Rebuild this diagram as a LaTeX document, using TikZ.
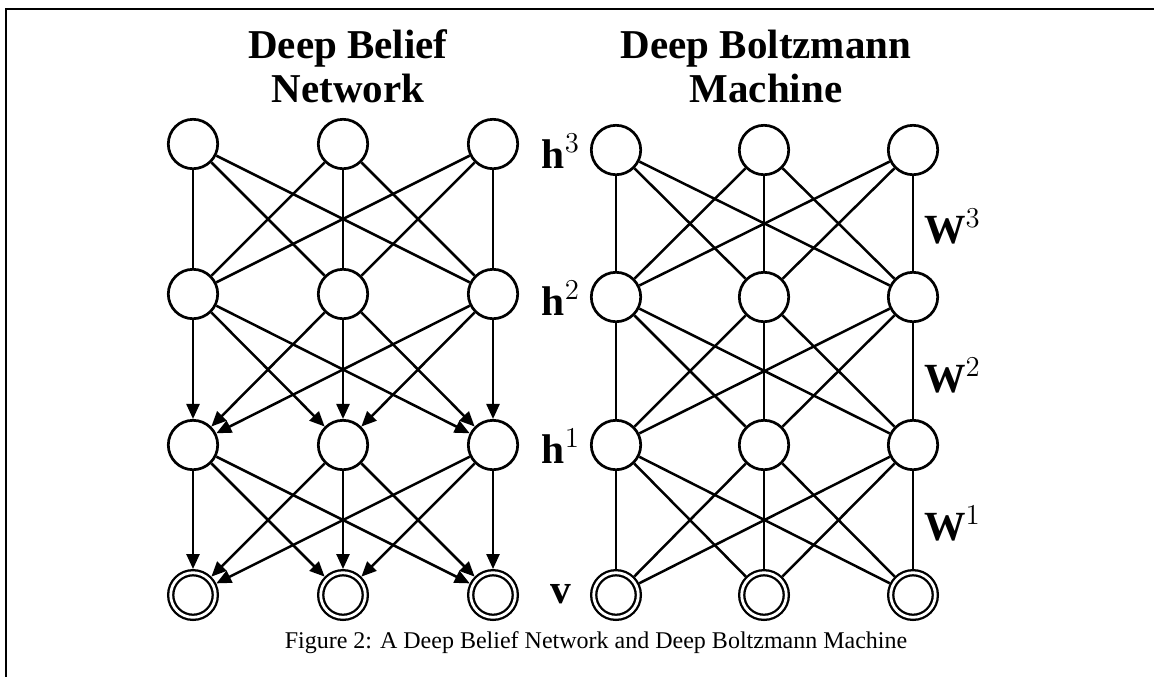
\documentclass[tikz,border=0pt]{standalone}
\usepackage{fontspec}
\setmainfont{Liberation Serif}
\usetikzlibrary{arrows.meta}

\begin{document}
\begin{tikzpicture}[x=0.5pt,y=-0.5pt,
    unit/.style={circle,draw,line width=1.35pt,minimum size=24.7pt,inner sep=0pt},
    visible/.style={circle,draw,line width=1.15pt,double,double distance=1.4pt,minimum size=22.3pt,inner sep=0pt,outer sep=1.85pt},
    link/.style={line width=1.25pt},
    arc/.style={line width=1.25pt,-{Triangle[length=7.5pt,width=6.5pt]}},
    lbl/.style={font=\fontsize{20.74}{24}\selectfont},
    title/.style={font=\fontsize{20.5}{22}\selectfont\bfseries,align=center}]
    \useasboundingbox (0,0) rectangle (1154,677);
    \draw[line width=1.3pt] (1154,9) -- (6,9) -- (6,677);
    % belief net (b) and boltzmann machine (m), rows 1..4 top to bottom
    \foreach \x [count=\c from 1] in {193,343,493} {
      \foreach \y [count=\r from 1] in {144,294,445} {\node[unit] (b\r\c) at (\x,\y) {};}
      \node[visible] (b4\c) at (\x,595) {};
    }
    \foreach \x [count=\c from 1] in {616,764,913} {
      \foreach \y [count=\r from 1] in {150,297,445} {\node[unit] (m\r\c) at (\x,\y) {};}
      \node[visible] (m4\c) at (\x,595) {};
    }
    \foreach \i in {1,2,3} {
      \foreach \j in {1,2,3} {
        \draw[link] (b1\i) -- (b2\j);
        \draw[arc] (b2\i) -- (b3\j);
        \draw[arc] (b3\i) -- (b4\j);
        \draw[link] (m1\i) -- (m2\j);
        \draw[link] (m2\i) -- (m3\j);
        \draw[link] (m3\i) -- (m4\j);
      }
    }
    \node[title] (tb) at (348,66) {Deep Belief\\Network};
    \node[title] (tm) at (766,66) {Deep Boltzmann\\Machine};
    \node[lbl,anchor=base east] (h3) at (587,168) {$\mathbf{h}^3$};
    \node[lbl,anchor=base east] (h2) at (587,315) {$\mathbf{h}^2$};
    \node[lbl,anchor=base east] (h1) at (587,463) {$\mathbf{h}^1$};
    \node[lbl,anchor=base east] (v) at (578,603) {$\mathbf{v}$};
    \node[lbl,anchor=base west] (w3) at (917,243) {$\mathbf{W}^3$};
    \node[lbl,anchor=base west] (w2) at (917,392) {$\mathbf{W}^2$};
    \node[lbl,anchor=base west] (w1) at (917,540) {$\mathbf{W}^1$};
    \node[font=\fontsize{12}{14}\selectfont,anchor=base] (cap) at (596,648)
      {Figure 2: A Deep Belief Network and Deep Boltzmann Machine};
  \end{tikzpicture}
\end{document}
